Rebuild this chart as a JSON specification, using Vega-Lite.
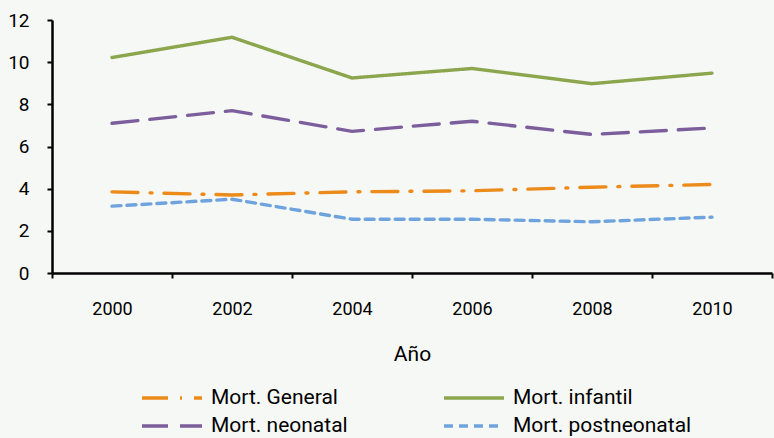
{
  "$schema": "https://vega.github.io/schema/vega-lite/v6.json",
  "autosize": "none",
  "width": 720,
  "height": 253,
  "padding": {"left": 52, "top": 20, "right": 2, "bottom": 165},
  "background": "#F6F8F6",
  "config": {
    "view": {"stroke": null},
    "font": "Roboto"
  },
  "data": {
    "values": [
      {"anio": "2000", "serie": "Mort. General", "valor": 3.85},
      {"anio": "2002", "serie": "Mort. General", "valor": 3.7},
      {"anio": "2004", "serie": "Mort. General", "valor": 3.85},
      {"anio": "2006", "serie": "Mort. General", "valor": 3.9},
      {"anio": "2008", "serie": "Mort. General", "valor": 4.07},
      {"anio": "2010", "serie": "Mort. General", "valor": 4.2},
      {"anio": "2000", "serie": "Mort. infantil", "valor": 10.22},
      {"anio": "2002", "serie": "Mort. infantil", "valor": 11.18},
      {"anio": "2004", "serie": "Mort. infantil", "valor": 9.25},
      {"anio": "2006", "serie": "Mort. infantil", "valor": 9.7},
      {"anio": "2008", "serie": "Mort. infantil", "valor": 8.98},
      {"anio": "2010", "serie": "Mort. infantil", "valor": 9.48},
      {"anio": "2000", "serie": "Mort. neonatal", "valor": 7.1},
      {"anio": "2002", "serie": "Mort. neonatal", "valor": 7.7},
      {"anio": "2004", "serie": "Mort. neonatal", "valor": 6.72},
      {"anio": "2006", "serie": "Mort. neonatal", "valor": 7.2},
      {"anio": "2008", "serie": "Mort. neonatal", "valor": 6.57},
      {"anio": "2010", "serie": "Mort. neonatal", "valor": 6.88},
      {"anio": "2000", "serie": "Mort. postneonatal", "valor": 3.17},
      {"anio": "2002", "serie": "Mort. postneonatal", "valor": 3.5},
      {"anio": "2004", "serie": "Mort. postneonatal", "valor": 2.55},
      {"anio": "2006", "serie": "Mort. postneonatal", "valor": 2.55},
      {"anio": "2008", "serie": "Mort. postneonatal", "valor": 2.43},
      {"anio": "2010", "serie": "Mort. postneonatal", "valor": 2.65}
    ]
  },
  "mark": {"type": "line", "strokeWidth": 3.4, "strokeCap": "round"},
  "encoding": {
    "x": {
      "field": "anio",
      "type": "ordinal",
      "scale": {"type": "band", "paddingInner": 0, "paddingOuter": 0},
      "axis": {
        "title": "Año",
        "labelAngle": 0,
        "tickBand": "extent",
        "domainColor": "#000000",
        "domainWidth": 2.5,
        "tickColor": "#000000",
        "tickWidth": 2,
        "tickSize": 5,
        "labelFontSize": 18,
        "labelColor": "#000000",
        "labelPadding": 22,
        "titleFontSize": 21,
        "titleFontWeight": "normal",
        "titleColor": "#000000",
        "titlePadding": 25
      }
    },
    "y": {
      "field": "valor",
      "type": "quantitative",
      "scale": {"domain": [0, 12], "nice": false},
      "axis": {
        "title": null,
        "values": [0, 2, 4, 6, 8, 10, 12],
        "grid": false,
        "domainColor": "#000000",
        "domainWidth": 2.5,
        "tickColor": "#000000",
        "tickWidth": 2,
        "tickSize": 5,
        "labelFontSize": 19,
        "labelColor": "#000000",
        "labelPadding": 18
      }
    },
    "color": {
      "field": "serie",
      "type": "nominal",
      "scale": {
        "domain": ["Mort. General", "Mort. infantil", "Mort. neonatal", "Mort. postneonatal"],
        "range": ["#EC8A1A", "#8CA64E", "#7B5E9B", "#6FA3DE"]
      },
      "legend": {
        "title": null,
        "orient": "none",
        "direction": "horizontal",
        "legendX": 108,
        "legendY": 366,
        "columns": 2,
        "columnPadding": 89,
        "rowPadding": 6,
        "symbolType": "M-3,0H3",
        "symbolSize": 400,
        "symbolStrokeWidth": 3.4,
        "labelFontSize": 21,
        "labelColor": "#000000",
        "labelOffset": 27,
        "labelLimit": 300
      }
    },
    "strokeDash": {
      "field": "serie",
      "type": "nominal",
      "scale": {
        "domain": ["Mort. General", "Mort. infantil", "Mort. neonatal", "Mort. postneonatal"],
        "range": [[26, 12, 2, 12], [1, 0], [26, 12], [9, 6]]
      },
      "legend": null
    }
  }
}
